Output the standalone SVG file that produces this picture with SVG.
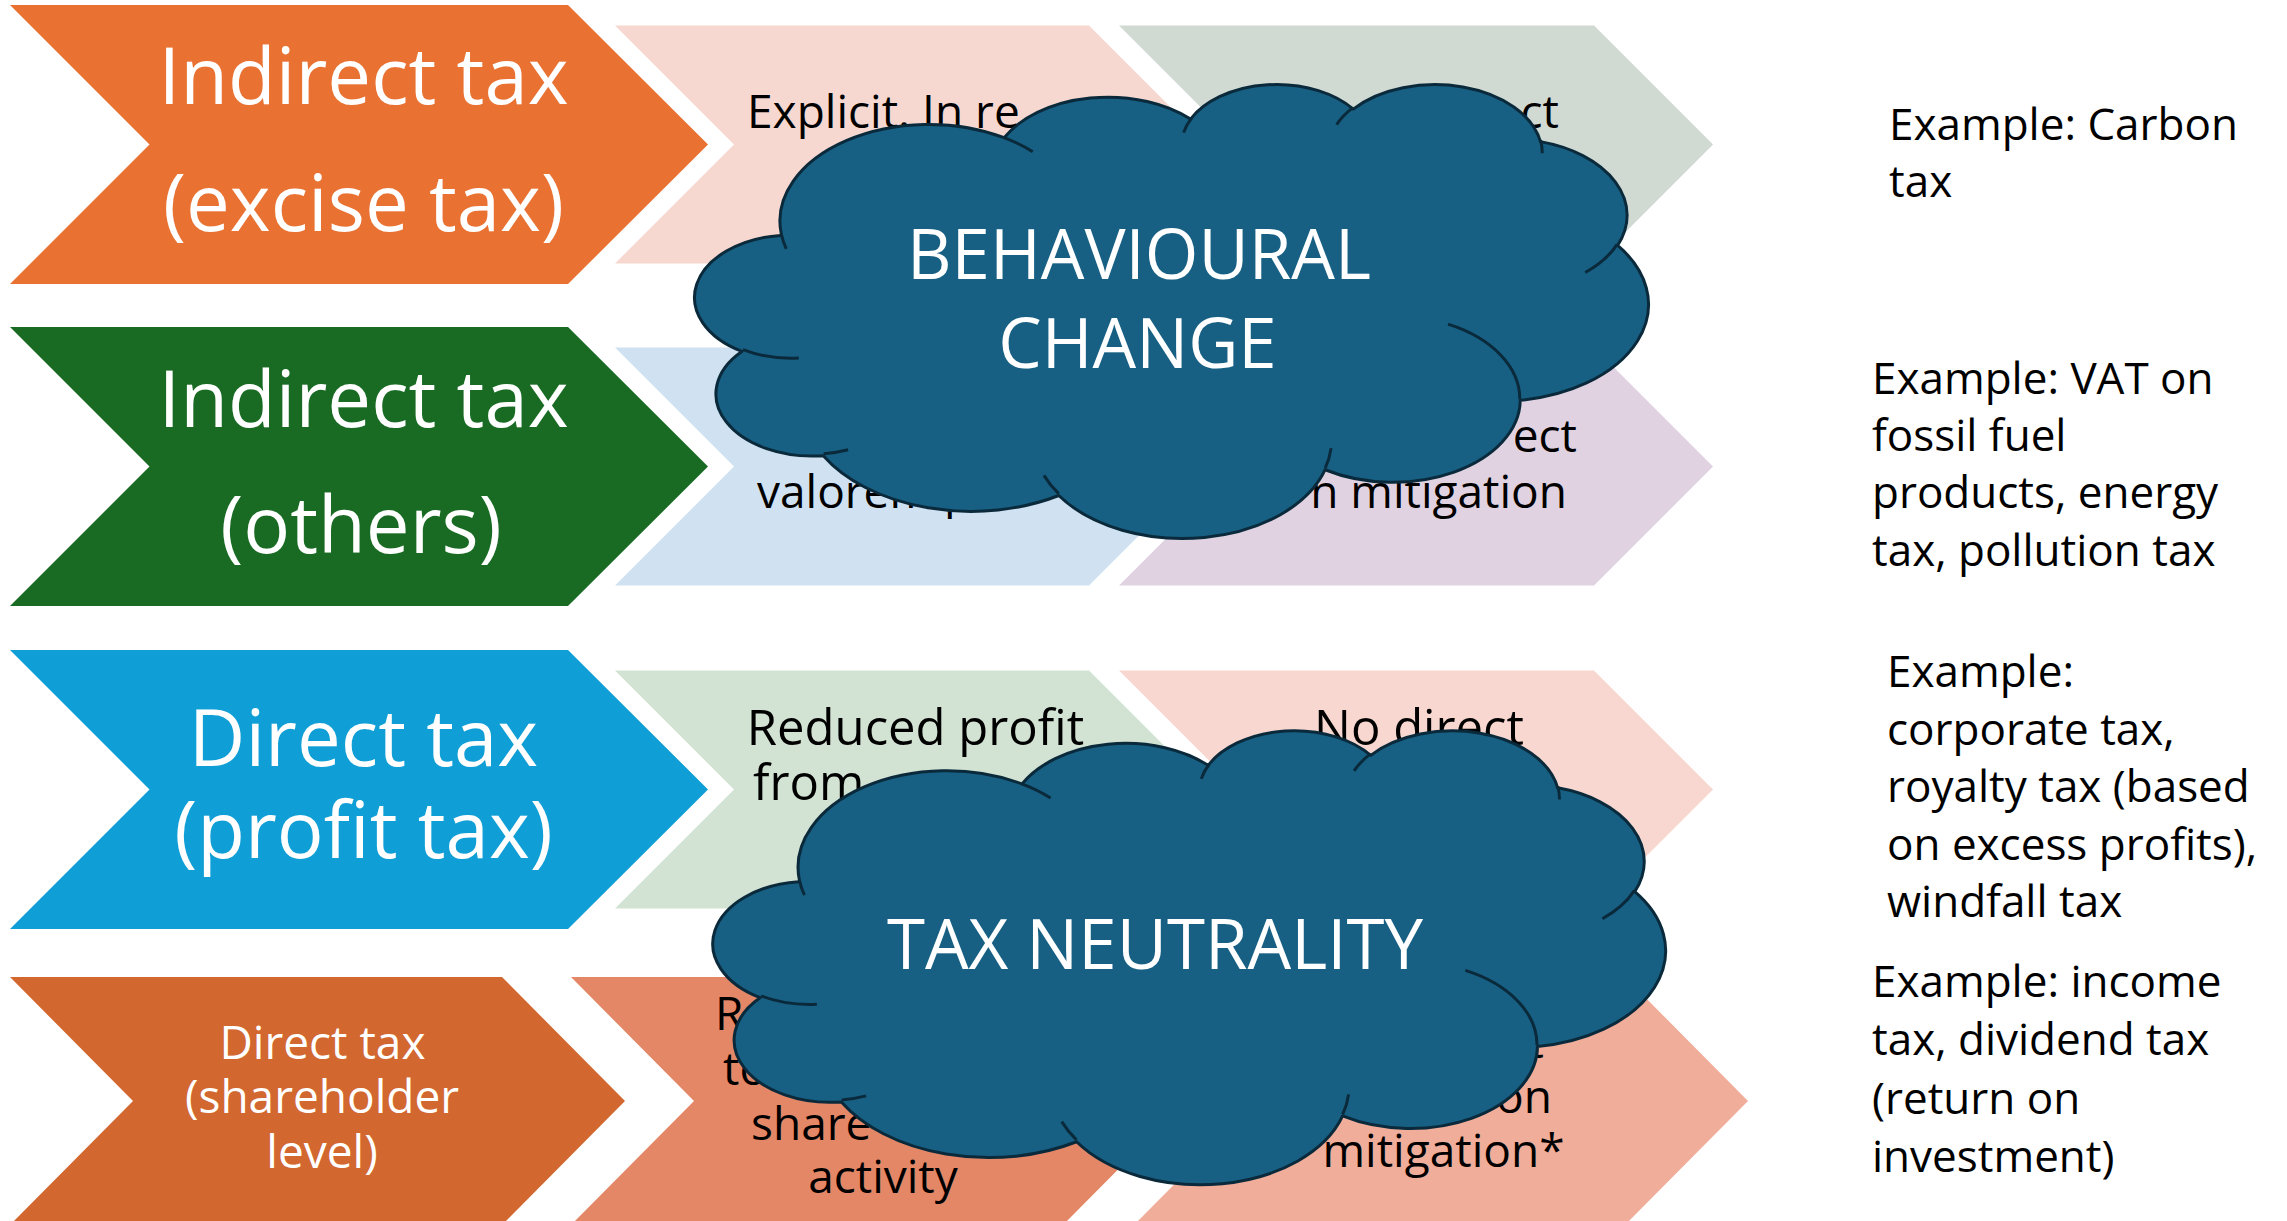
<svg xmlns="http://www.w3.org/2000/svg" width="2287" height="1221" viewBox="0 0 2287 1221">
<style>
.main{font-family:"Open Sans","Noto Sans",sans-serif;fill:#ffffff;text-anchor:middle}
.big{font-size:78px}
.small{font-size:46px}
.sub{font-family:"Open Sans","Noto Sans",sans-serif;font-size:46px;fill:#000000}
.sub3{font-size:49px}
.ex{font-family:"Open Sans","Noto Sans",sans-serif;font-size:44px;fill:#000000}
.cloud{fill:#176083;stroke:#0A2A3C;stroke-width:3;stroke-linejoin:round;vector-effect:non-scaling-stroke}
.inner{fill:none;stroke:#0A2A3C;stroke-width:3;vector-effect:non-scaling-stroke}
.ctext{font-family:"Open Sans","Noto Sans",sans-serif;font-size:69px;fill:#ffffff;text-anchor:middle}
</style>
<rect width="2287" height="1221" fill="#ffffff"/>

<g id="row1">
<g id="row1-main"><polygon points="10,5 568,5 708,144.5 568,284 10,284 149.5,144.5" fill="#E97132"/>
<text class="main big" x="363.5" y="104">Indirect tax</text>
<text class="main big" x="363.5" y="231">(excise tax)</text></g>
<g id="row1-sub1"><polygon points="615,25.5 1089,25.5 1208,144.5 1089,263.5 615,263.5 734,144.5" fill="#F6D8D0"/>
<text class="sub" x="747" y="128">Explicit. In re</text></g>
<g id="row1-sub2"><polygon points="1119,25.5 1594,25.5 1713,144.5 1594,263.5 1119,263.5 1238,144.5" fill="#D0D9D2"/>
<text class="sub" x="1559" y="128" text-anchor="end">ct</text></g>
</g>

<g id="row2">
<g id="row2-main"><polygon points="10,327 568,327 708,466.5 568,606 10,606 149.5,466.5" fill="#196B24"/>
<text class="main big" x="363.5" y="427">Indirect tax</text>
<text class="main big" x="361" y="553">(others)</text></g>
<g id="row2-sub1"><polygon points="615,347.5 1089,347.5 1208,466.5 1089,585.5 615,585.5 734,466.5" fill="#D0E2F1"/>
<text class="sub" x="757" y="508">valorem p</text></g>
<g id="row2-sub2"><polygon points="1119,347.5 1594,347.5 1713,466.5 1594,585.5 1119,585.5 1238,466.5" fill="#E1D2E2"/>
<text class="sub" x="1577" y="452" text-anchor="end">ect</text>
<text class="sub" x="1567" y="508" text-anchor="end">n mitigation</text></g>
</g>

<g id="row3">
<g id="row3-main"><polygon points="10,650 568,650 708,789.5 568,929 10,929 149.5,789.5" fill="#0F9ED5"/>
<text class="main big" x="363.5" y="766">Direct tax</text>
<text class="main big" x="363.5" y="858">(profit tax)</text></g>
<g id="row3-sub1"><polygon points="615,670.5 1089,670.5 1208,789.5 1089,908.5 615,908.5 734,789.5" fill="#D3E3D3"/>
<text class="sub sub3" x="915.5" y="745" text-anchor="middle">Reduced profit</text>
<text class="sub sub3" x="753" y="800">from</text></g>
<g id="row3-sub2"><polygon points="1119,670.5 1594,670.5 1713,789.5 1594,908.5 1119,908.5 1238,789.5" fill="#F7D7CF"/>
<text class="sub sub3" x="1419" y="745" text-anchor="middle">No direct</text></g>
</g>

<g id="row4">
<g id="row4-main"><polygon points="10,977 502,977 625,1101 502,1225 10,1225 133,1101" fill="#D2672F"/>
<text class="main small" x="322.5" y="1059">Direct tax</text>
<text class="main small" x="322" y="1113">(shareholder</text>
<text class="main small" x="322" y="1168">level)</text></g>
<g id="row4-sub1"><polygon points="571,977 1063,977 1186,1101 1063,1225 571,1225 694,1101" fill="#E48766"/>
<text class="sub" x="715" y="1030">R</text>
<text class="sub" x="723" y="1085">to</text>
<text class="sub" x="751" y="1140">share</text>
<text class="sub" x="883" y="1193" text-anchor="middle">activity</text></g>
<g id="row4-sub2"><polygon points="1134,977 1625,977 1748,1101 1625,1225 1134,1225 1257,1101" fill="#F0AD99"/>
<text class="sub" x="1544" y="1058" text-anchor="end">t</text>
<text class="sub" x="1552" y="1113" text-anchor="end">on</text>
<text class="sub" x="1443.5" y="1167" text-anchor="middle">mitigation*</text></g>
</g>

<g id="connectors"></g>

<g id="cloud-behavioural">
<g transform="translate(695.27,83.06) scale(0.022056,0.010505)">
<path class="cloud" vector-effect="non-scaling-stroke" d="M 3900 14370 A 6753 9190 0 0 1 14003.8 5201.2 A 5333 7267 0 0 1 22454.9 3428.8 A 4365 5945 0 0 1 29832.7 2478.6 A 4857 6595 0 0 1 38318.2 5573.5 A 5333 7273 0 0 1 41818.7 15457.4 A 6775 9220 0 0 1 37403.5 30198.1 A 5785 7867 0 0 1 28555.9 36809.1 A 6752 9215 0 0 1 16481.3 39262.5 A 7720 10543 0 0 1 5804.5 35470.2 A 4360 5918 0 0 1 2114.1 25547.3 A 4345 5945 0 0 1 3864.4 14504.1 Z"/>
<path class="inner" vector-effect="non-scaling-stroke" d="M 4693 26177 A 4345 5945 0 0 1 2159.4 25379.6 M 6928 34899 A 4360 5918 0 0 1 5819 35280.8 M 16478 39090 A 6752 9215 0 0 1 15808.7 37346.3 M 28827 34751 A 6752 9215 0 0 1 28560.6 36659.9 M 34129 22954 A 5785 7867 0 0 1 37380.9 30089.8 M 41798 15354 A 5333 7273 0 0 1 40350.9 18028.7 M 38324 5426 A 4857 6595 0 0 1 38400.4 6689.5 M 29078 3952 A 4857 6595 0 0 1 29819 2341.7 M 22141 4720 A 4365 5945 0 0 1 22500.1 3330 M 14000 5192 A 6753 9190 0 0 1 15300.7 6540.8 M 4127 15789 A 6753 9190 0 0 1 3900.4 14371"/>
</g>
<text class="ctext" x="1139" y="279">BEHAVIOURAL</text>
<text class="ctext" x="1137.5" y="368">CHANGE</text>
</g>

<g id="cloud-neutrality">
<g transform="translate(713.5,729.3) scale(0.02203,0.010505)">
<path class="cloud" vector-effect="non-scaling-stroke" d="M 3900 14370 A 6753 9190 0 0 1 14003.8 5201.2 A 5333 7267 0 0 1 22454.9 3428.8 A 4365 5945 0 0 1 29832.7 2478.6 A 4857 6595 0 0 1 38318.2 5573.5 A 5333 7273 0 0 1 41818.7 15457.4 A 6775 9220 0 0 1 37403.5 30198.1 A 5785 7867 0 0 1 28555.9 36809.1 A 6752 9215 0 0 1 16481.3 39262.5 A 7720 10543 0 0 1 5804.5 35470.2 A 4360 5918 0 0 1 2114.1 25547.3 A 4345 5945 0 0 1 3864.4 14504.1 Z"/>
<path class="inner" vector-effect="non-scaling-stroke" d="M 4693 26177 A 4345 5945 0 0 1 2159.4 25379.6 M 6928 34899 A 4360 5918 0 0 1 5819 35280.8 M 16478 39090 A 6752 9215 0 0 1 15808.7 37346.3 M 28827 34751 A 6752 9215 0 0 1 28560.6 36659.9 M 34129 22954 A 5785 7867 0 0 1 37380.9 30089.8 M 41798 15354 A 5333 7273 0 0 1 40350.9 18028.7 M 38324 5426 A 4857 6595 0 0 1 38400.4 6689.5 M 29078 3952 A 4857 6595 0 0 1 29819 2341.7 M 22141 4720 A 4365 5945 0 0 1 22500.1 3330 M 14000 5192 A 6753 9190 0 0 1 15300.7 6540.8 M 4127 15789 A 6753 9190 0 0 1 3900.4 14371"/>
</g>
<text class="ctext" x="1155" y="969">TAX NEUTRALITY</text>
</g>

<g id="example1"><text class="ex" x="1889" y="140">Example: Carbon</text><text class="ex" x="1889" y="197">tax</text></g>
<g id="example2"><text class="ex" x="1872" y="394">Example: VAT on</text><text class="ex" x="1872" y="451">fossil fuel</text><text class="ex" x="1872" y="508">products, energy</text><text class="ex" x="1872" y="566">tax, pollution tax</text></g>
<g id="example3"><text class="ex" x="1887" y="687">Example:</text><text class="ex" x="1887" y="745">corporate tax,</text><text class="ex" x="1887" y="802">royalty tax (based</text><text class="ex" x="1887" y="860">on excess profits),</text><text class="ex" x="1887" y="917">windfall tax</text></g>
<g id="example4"><text class="ex" x="1872" y="997">Example: income</text><text class="ex" x="1872" y="1055">tax, dividend tax</text><text class="ex" x="1872" y="1114">(return on</text><text class="ex" x="1872" y="1172">investment)</text></g>
</svg>
